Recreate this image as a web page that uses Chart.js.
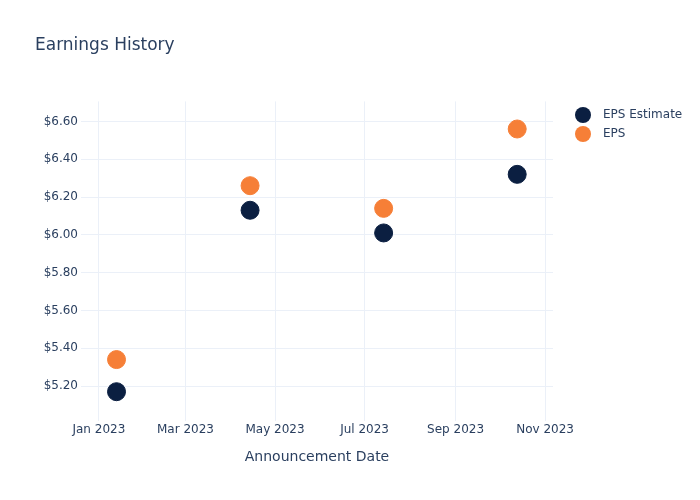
<!DOCTYPE html>
<html>
<head>
<meta charset="utf-8">
<script src="https://cdn.jsdelivr.net/npm/chart.js@4.4.0/dist/chart.umd.min.js"></script>
<style>
  html, body { margin: 0; padding: 0; background: #fff; }
  #wrap { width: 700px; height: 500px; }
</style>
</head>
<body>
<div id="wrap"><canvas id="earningsChart" width="700" height="500"></canvas></div>
<script>
// data
const announceDates = ['2023-01-13', '2023-04-14', '2023-07-14', '2023-10-13'];
const epsEstimate = [5.17, 6.13, 6.01, 6.32];
const epsActual = [5.34, 6.26, 6.14, 6.56];
const seriesNames = ['EPS Estimate', 'EPS'];
const yTickValues = [5.2, 5.4, 5.6, 5.8, 6.0, 6.2, 6.4, 6.6];
const xTickDates = ['2023-01-01', '2023-03-01', '2023-05-01', '2023-07-01', '2023-09-01', '2023-11-01'];
const monthNames = ['Jan', 'Feb', 'Mar', 'Apr', 'May', 'Jun', 'Jul', 'Aug', 'Sep', 'Oct', 'Nov', 'Dec'];

const textColor = '#2a3f5f';
const gridColor = '#ebf0f8';
const fontFamily = '"DejaVu Sans", Verdana, sans-serif';

function toMs(s) {
    const p = s.split('-').map(Number);
    return Date.UTC(p[0], p[1] - 1, p[2]);
}

function toPoints(values) {
    return values.map((v, i) => ({ x: toMs(announceDates[i]), y: v }));
}

const DAY = 86400000;
const xMin = toMs('2023-01-01') - 12.2 * DAY;
const xMax = toMs('2023-11-01') + 5.4 * DAY;

// legend drawn next to the plot, like the reference
const sideLegend = {
    id: 'sideLegend',
    afterDraw(chart) {
        const ctx = chart.ctx;
        ctx.save();
        chart.data.datasets.forEach((ds, i) => {
            const y = 115 + i * 19;
            ctx.beginPath();
            ctx.arc(583, y, 8, 0, Math.PI * 2);
            ctx.fillStyle = ds.backgroundColor;
            ctx.fill();
            ctx.fillStyle = textColor;
            ctx.font = '12px ' + fontFamily;
            ctx.textBaseline = 'middle';
            ctx.textAlign = 'left';
            ctx.fillText(ds.label, 603, y);
        });
        ctx.restore();
    }
};

new Chart(document.getElementById('earningsChart'), {
    type: 'scatter',
    data: {
        datasets: [{
            label: seriesNames[0],
            data: toPoints(epsEstimate),
            backgroundColor: '#0b1f41',
            borderColor: '#0b1f41',
            pointRadius: 9,
            pointHoverRadius: 9
        }, {
            label: seriesNames[1],
            data: toPoints(epsActual),
            backgroundColor: '#f67f37',
            borderColor: '#f67f37',
            pointRadius: 9,
            pointHoverRadius: 9
        }]
    },
    options: {
        responsive: false,
        animation: false,
        layout: {
            padding: { left: 35, right: 147, top: 0, bottom: 0 }
        },
        plugins: {
            legend: { display: false },
            tooltip: { enabled: false },
            title: {
                display: true,
                text: 'Earnings History',
                align: 'start',
                color: textColor,
                font: { family: fontFamily, size: 17, weight: 'normal' },
                padding: { top: 35, bottom: 46 }
            }
        },
        scales: {
            x: {
                type: 'linear',
                min: xMin,
                max: xMax,
                afterBuildTicks(scale) {
                    scale.ticks = xTickDates.map(d => ({ value: toMs(d) }));
                },
                afterFit(scale) {
                    scale.height = 79;
                },
                ticks: {
                    color: textColor,
                    font: { family: fontFamily, size: 12 },
                    padding: 2,
                    maxRotation: 0,
                    autoSkip: false,
                    callback(value) {
                        const d = new Date(value);
                        return monthNames[d.getUTCMonth()] + ' ' + d.getUTCFullYear();
                    }
                },
                grid: { color: gridColor, drawTicks: false },
                border: { display: false },
                title: {
                    display: true,
                    text: 'Announcement Date',
                    color: textColor,
                    font: { family: fontFamily, size: 14 },
                    padding: { top: 0, bottom: 34 }
                }
            },
            y: {
                min: 5.015,
                max: 6.706,
                afterBuildTicks(scale) {
                    scale.ticks = yTickValues.map(v => ({ value: v }));
                },
                afterFit(scale) {
                    scale.width = 46;
                },
                ticks: {
                    color: textColor,
                    font: { family: fontFamily, size: 12 },
                    padding: 3,
                    callback(value) {
                        return '$' + value.toFixed(2);
                    }
                },
                grid: { color: gridColor, drawTicks: false },
                border: { display: false }
            }
        }
    },
    plugins: [sideLegend]
});
</script>
</body>
</html>
